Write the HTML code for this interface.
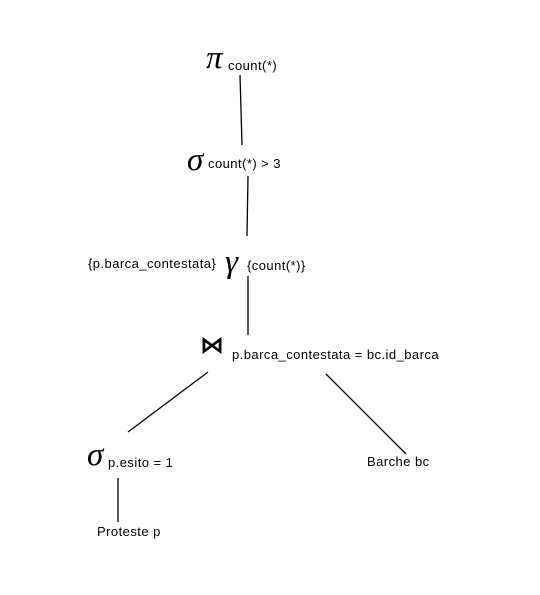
<!DOCTYPE html>
<html><head><style>
body{margin:0;width:540px;height:595px;background:#fff;position:relative;overflow:hidden;font-family:"Liberation Sans","DejaVu Sans",sans-serif;color:#000}
.t{position:absolute;font-size:13px;line-height:14px;letter-spacing:0.45px;white-space:nowrap}
.g{position:absolute;font-family:"Liberation Serif","DejaVu Serif",serif;font-style:italic;font-size:33px;line-height:30px}
</style></head><body>
<svg width="540" height="595" style="position:absolute;left:0;top:0" stroke="#000" stroke-width="1.3">
<line x1="240" y1="75" x2="242" y2="145"/>
<line x1="248" y1="176" x2="247" y2="236"/>
<line x1="248" y1="276" x2="248" y2="335"/>
<line x1="208" y1="372" x2="128" y2="432"/>
<line x1="326" y1="374" x2="406" y2="454"/>
<line x1="118" y1="478" x2="118" y2="522"/>
</svg>
<div class="g" style="left:206px;top:43px">π</div>
<div class="t" style="left:228px;top:59px">count(*)</div>
<div class="g" style="left:187px;top:145px">σ</div>
<div class="t" style="left:208px;top:157px">count(*) &gt; 3</div>
<div class="t" style="left:88px;top:257px">{p.barca_contestata}</div>
<div class="g" style="left:225px;top:247px">γ</div>
<div class="t" style="left:247px;top:259px">{count(*)}</div>
<div style="position:absolute;left:200px;top:333px;font-size:24px;line-height:24px;font-weight:bold;font-family:'DejaVu Sans',sans-serif">⋈</div>
<div class="t" style="left:232px;top:348px">p.barca_contestata = bc.id_barca</div>
<div class="g" style="left:87px;top:440px">σ</div>
<div class="t" style="left:108px;top:456px">p.esito = 1</div>
<div class="t" style="left:367px;top:455px">Barche bc</div>
<div class="t" style="left:97px;top:525px">Proteste p</div>
</body></html>
